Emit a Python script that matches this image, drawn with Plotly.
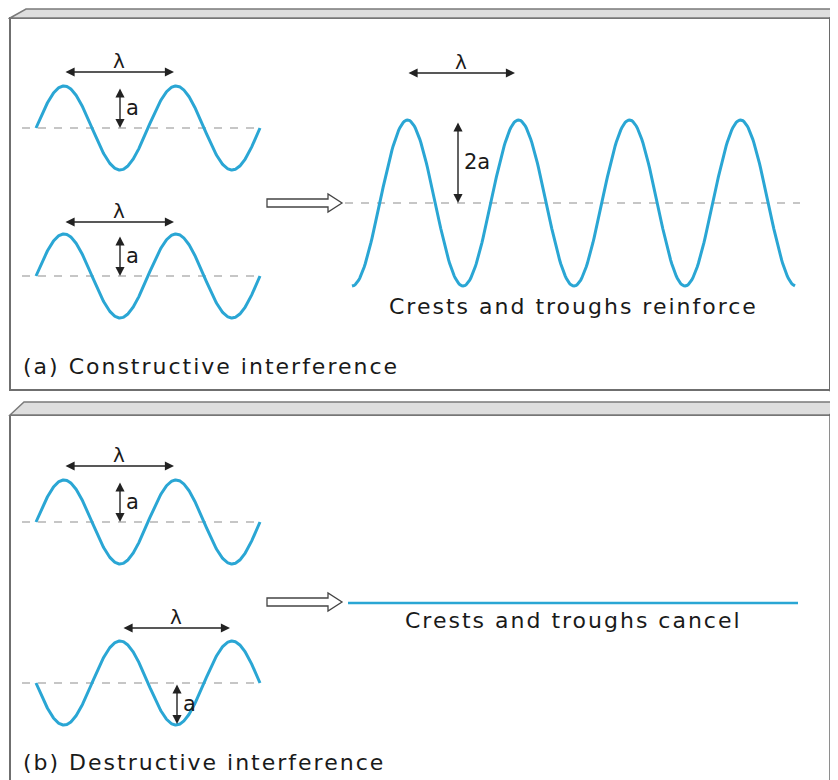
import numpy as np
import plotly.graph_objects as go

W, H = 838, 780
OFF = 8  # page body margin offset
WAVE_COLOR = "#2aa6d4"
DASH_COLOR = "#b4b4b4"
TEXT_COLOR = "#1a1a1a"
FONT = "DejaVu Sans"

# --- wave parameters (pixel units) ---
wave_names = ["a1", "a2", "a_sum", "b1", "b2"]
wave_x0 = [36, 36, 352, 36, 36]          # start x
wave_x1 = [260, 260, 795, 260, 260]       # end x
wave_base = [128, 276, 203, 522, 683]     # baseline y
wave_amp = [42, 42, 83, 42, -42]          # amplitude (negative = anti-phase)
wave_len = [112, 112, 111, 112, 112]      # wavelength
wave_phase = [0.0, 0.0, -0.25, 0.0, 0.0]  # phase (in wavelengths) at start

# dashed baselines: x from, x to, y
dash_x0 = [22, 22, 345, 22, 22]
dash_x1 = [262, 262, 800, 262, 262]
dash_y = [128, 276, 203, 522, 683]

# cancelled wave (flat line)
flat_x = [348, 798]
flat_y = [603, 603]

fig = go.Figure()

for x0, x1, y0, y1 in zip(dash_x0, dash_x1, dash_y, dash_y):
    fig.add_trace(go.Scatter(x=[x0, x1], y=[y0, y1], mode="lines",
                             line=dict(color=DASH_COLOR, width=1.5, dash="8px,8px"),
                             hoverinfo="skip", showlegend=False))

for name, x0, x1, base, amp, lam, ph in zip(wave_names, wave_x0, wave_x1, wave_base,
                                             wave_amp, wave_len, wave_phase):
    xs = np.linspace(x0, x1, 400)
    ys = base - amp * np.sin(2 * np.pi * ((xs - x0) / lam + ph))
    fig.add_trace(go.Scatter(x=xs, y=ys, mode="lines", name=name,
                             line=dict(color=WAVE_COLOR, width=3),
                             hoverinfo="skip", showlegend=False))

fig.add_trace(go.Scatter(x=flat_x, y=flat_y, mode="lines",
                         line=dict(color=WAVE_COLOR, width=2.5),
                         hoverinfo="skip", showlegend=False))

shapes = []
FRAME = "#6f6f6f"
# panel (a) frame
shapes.append(dict(type="rect", x0=10, x1=830, y0=18, y1=390,
                   line=dict(color=FRAME, width=2), fillcolor="white", layer="below"))
shapes.append(dict(type="path", path="M10,18 L26,9 L838,9 L830,18 Z",
                   fillcolor="#dedede", line=dict(color="#7a7a7a", width=1.5), layer="below"))
shapes.append(dict(type="path", path="M830,18 L838,9 L838,383 L830,390 Z",
                   fillcolor="#a9a9a9", line=dict(color="#6a6a6a", width=1.5), layer="below"))
# panel (b) frame
shapes.append(dict(type="path", path="M10,415 L10,782 M10,415 L830,415",
                   line=dict(color=FRAME, width=2), layer="below"))
shapes.append(dict(type="path", path="M10,415 L24,402 L838,402 L830,415 Z",
                   fillcolor="#dedede", line=dict(color="#7a7a7a", width=1.5), layer="below"))
shapes.append(dict(type="path", path="M830,415 L838,402 L838,782 L830,782 Z",
                   fillcolor="#a9a9a9", line=dict(color="#6a6a6a", width=1.5), layer="below"))

# hollow arrows
for yc in [203, 602]:
    p = (f"M267,{yc-4} L328,{yc-4} L328,{yc-9} L342,{yc} L328,{yc+9} "
         f"L328,{yc+4} L267,{yc+4} Z")
    shapes.append(dict(type="path", path=p, fillcolor="white",
                       line=dict(color="#444444", width=1.3)))

annotations = []

def dbl_arrow(x0, y0, x1, y1):
    annotations.append(dict(x=x1, y=y1, ax=x0, ay=y0, xref="x", yref="y",
                            axref="x", ayref="y", text="", showarrow=True,
                            arrowhead=2, startarrowhead=2, arrowside="end+start",
                            arrowsize=1.3, startarrowsize=1.3, arrowwidth=1.4,
                            arrowcolor="#222222", standoff=0, startstandoff=0))

def label(x, y, s, size=20, anchor="center", spacing=None):
    txt = s if spacing is None else f'<span style="letter-spacing:{spacing}px">{s}</span>'
    annotations.append(dict(x=x, y=y, xref="x", yref="y", text=txt, showarrow=False,
                            xanchor=anchor, yanchor="middle",
                            font=dict(family=FONT, size=size, color=TEXT_COLOR)))

# wavelength arrows
lam_arrows = [(64, 174, 72), (64, 174, 222), (407, 515, 73), (64, 174, 466), (122, 230, 628)]
for xa, xb, y in lam_arrows:
    dbl_arrow(xa, y, xb, y)
    label((xa + xb) / 2, y - 11, "λ", size=20)

# amplitude arrows
amp_arrows = [(120, 87, 128, "a"), (120, 235, 276, "a"), (458, 121, 203, "2a"),
              (120, 481, 522, "a"), (177, 683, 724, "a")]
for x, ya, yb, s in amp_arrows:
    dbl_arrow(x, ya, x, yb)
    label(x + 4, (ya + yb) / 2, s, size=21, anchor="left")

label(573, 306, "Crests and troughs reinforce", size=22, spacing=2)
label(573, 620, "Crests and troughs cancel", size=22, spacing=2)
label(21, 366, "(a) Constructive interference", size=22, anchor="left", spacing=2)
label(21, 762, "(b) Destructive interference", size=22, anchor="left", spacing=2)

fig.update_layout(
    width=W - OFF, height=H - OFF,
    margin=dict(l=0, r=0, t=0, b=0),
    paper_bgcolor="white", plot_bgcolor="white",
    xaxis=dict(range=[OFF, W], visible=False, fixedrange=True),
    yaxis=dict(range=[H, OFF], visible=False, fixedrange=True),
    shapes=shapes, annotations=annotations,
)

fig.write_html("out.html")
